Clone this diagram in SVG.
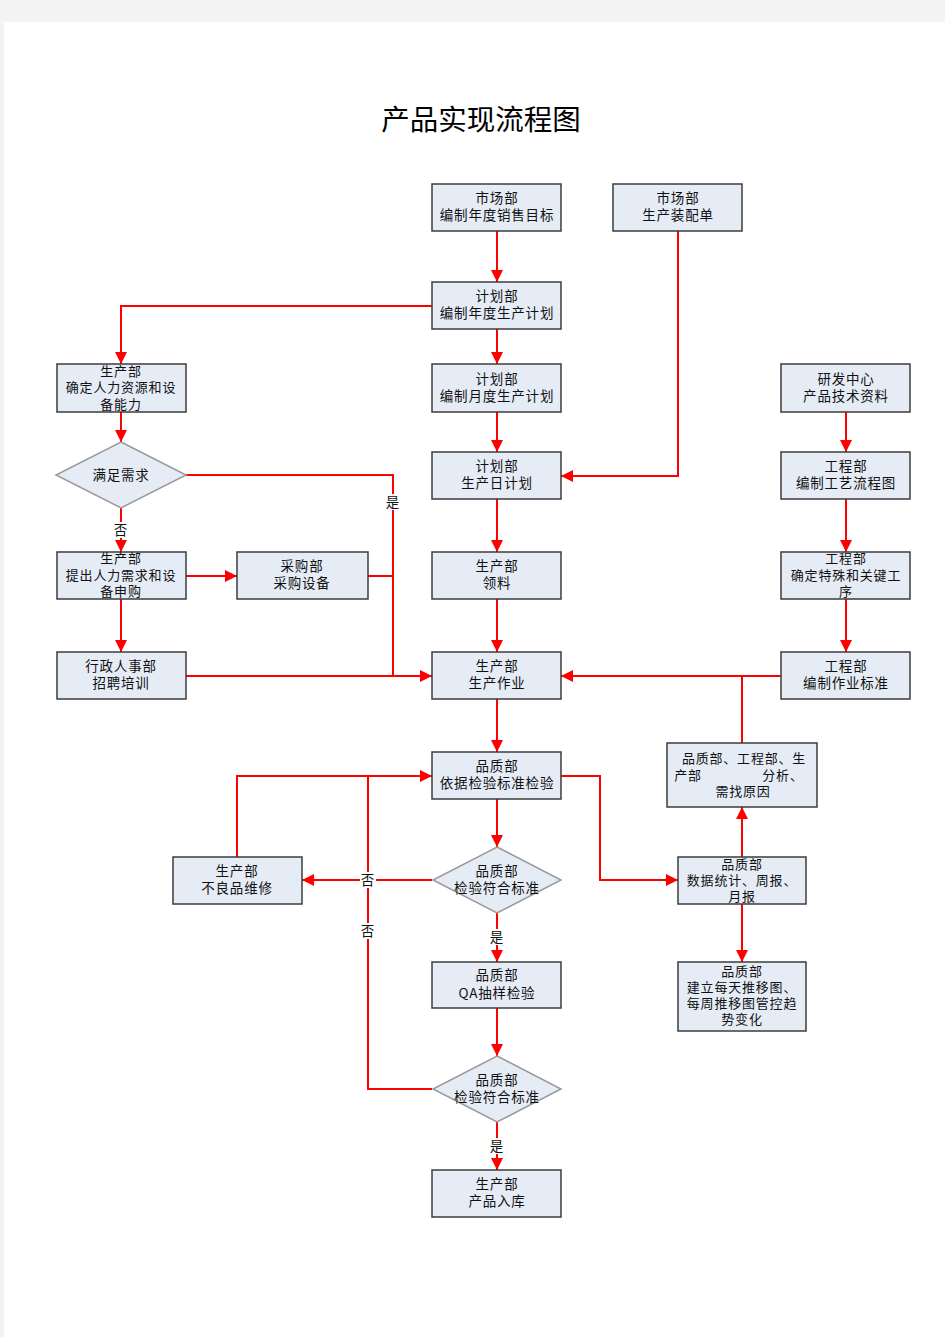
<svg xmlns="http://www.w3.org/2000/svg" width="945" height="1337" viewBox="0 0 945 1337">
<defs>
<marker id="arr" markerUnits="userSpaceOnUse" markerWidth="13" markerHeight="13" refX="12" refY="6" orient="auto">
<path d="M0,0 L12,6 L0,12 z" fill="#ff0000"/>
</marker>
<style>
.box{fill:#e6ecf6;stroke:#3c3c3c;stroke-width:1.5}
.dia{fill:#e6ecf6;stroke:#999999;stroke-width:1.5}
.t{font-family:"Noto Sans CJK SC","Liberation Sans",sans-serif;font-size:13.5px;letter-spacing:0.8px;fill:#111;text-anchor:middle}
.s{font-size:13px}
.c{fill:none;stroke:#ff0000;stroke-width:2}
.a{marker-end:url(#arr)}
.lb{fill:#ffffff}
</style>
</defs>
<rect x="0" y="0" width="945" height="1337" fill="#f3f3f3"/>
<rect x="4" y="22" width="941" height="1315" fill="#ffffff"/>
<text x="481" y="130" style="font-family:'Noto Sans CJK SC','Liberation Serif',serif;font-size:28.5px;fill:#000;text-anchor:middle">产品实现流程图</text>

<g id="connectors">
<path class="c a" d="M497,231 V282"/>
<path class="c a" d="M432,306 H121 V364"/>
<path class="c a" d="M497,329 V364"/>
<path class="c a" d="M497,412 V452"/>
<path class="c a" d="M678,231 V476 H561"/>
<path class="c a" d="M497,499 V552"/>
<path class="c a" d="M497,599 V652"/>
<path class="c a" d="M121,412 V442"/>
<path class="c" d="M186,475 H393 V676"/>
<path class="c a" d="M121,508 V552"/>
<path class="c a" d="M186,576 H237"/>
<path class="c" d="M368,576 H393"/>
<path class="c a" d="M121,599 V652"/>
<path class="c a" d="M186,676 H432"/>
<path class="c a" d="M781,676 H561"/>
<path class="c a" d="M846,412 V452"/>
<path class="c a" d="M846,499 V552"/>
<path class="c a" d="M846,599 V652"/>
<path class="c" d="M742,676 V743"/>
<path class="c a" d="M497,699 V752"/>
<path class="c a" d="M497,799 V847"/>
<path class="c a" d="M561,776 H600 V880 H678"/>
<path class="c a" d="M742,857 V807"/>
<path class="c a" d="M742,904 V962"/>
<path class="c a" d="M432,880 H302"/>
<path class="c a" d="M237,857 V776 H432"/>
<path class="c a" d="M497,913 V962"/>
<path class="c a" d="M497,1008 V1056"/>
<path class="c" d="M432,1089 H368 V776"/>
<path class="c a" d="M497,1122 V1170"/>
<rect class="lb" x="386" y="494" width="14" height="16"/>
<text class="t" x="393" y="507">是</text>
<rect class="lb" x="114" y="522" width="14" height="16"/>
<text class="t" x="121" y="535">否</text>
<rect class="lb" x="360" y="872" width="16" height="16"/>
<text class="t" x="368" y="885">否</text>
<rect class="lb" x="360" y="923" width="16" height="16"/>
<text class="t" x="368" y="936">否</text>
<rect class="lb" x="490" y="929" width="14" height="16"/>
<text class="t" x="497" y="942">是</text>
<rect class="lb" x="490" y="1138" width="14" height="16"/>
<text class="t" x="497" y="1151">是</text>
</g>

<g id="n_sales"><rect class="box" x="432" y="184" width="129" height="47"/><text class="t" x="497" y="203">市场部</text><text class="t" x="497" y="220">编制年度销售目标</text></g>
<g id="n_assembly"><rect class="box" x="613" y="184" width="129" height="47"/><text class="t" x="678" y="203">市场部</text><text class="t" x="678" y="220">生产装配单</text></g>
<g id="n_yearplan"><rect class="box" x="432" y="282" width="129" height="47"/><text class="t" x="497" y="301">计划部</text><text class="t" x="497" y="318">编制年度生产计划</text></g>
<g id="n_monthplan"><rect class="box" x="432" y="364" width="129" height="48"/><text class="t" x="497" y="384">计划部</text><text class="t" x="497" y="401">编制月度生产计划</text></g>
<g id="n_dayplan"><rect class="box" x="432" y="452" width="129" height="47"/><text class="t" x="497" y="471">计划部</text><text class="t" x="497" y="488">生产日计划</text></g>
<g id="n_material"><rect class="box" x="432" y="552" width="129" height="47"/><text class="t" x="497" y="571">生产部</text><text class="t" x="497" y="588">领料</text></g>
<g id="n_production"><rect class="box" x="432" y="652" width="129" height="47"/><text class="t" x="497" y="671">生产部</text><text class="t" x="497" y="688">生产作业</text></g>
<g id="n_inspect"><rect class="box" x="432" y="752" width="129" height="47"/><text class="t" x="497" y="771">品质部</text><text class="t" x="497" y="788">依据检验标准检验</text></g>
<g id="n_check1"><polygon class="dia" points="497,847 561,880 497,913 433,880"/><text class="t" x="497" y="876">品质部</text><text class="t" x="497" y="893">检验符合标准</text></g>
<g id="n_qa"><rect class="box" x="432" y="962" width="129" height="46"/><text class="t" x="497" y="980">品质部</text><text class="t" x="497" y="998">QA抽样检验</text></g>
<g id="n_check2"><polygon class="dia" points="497,1056 561,1089 497,1122 433,1089"/><text class="t" x="497" y="1085">品质部</text><text class="t" x="497" y="1102">检验符合标准</text></g>
<g id="n_storage"><rect class="box" x="432" y="1170" width="129" height="47"/><text class="t" x="497" y="1189">生产部</text><text class="t" x="497" y="1206">产品入库</text></g>

<g id="n_capacity"><rect class="box" x="57" y="364" width="129" height="48"/><text class="t s" x="121" y="376">生产部</text><text class="t s" x="121" y="392">确定人力资源和设</text><text class="t s" x="121" y="409">备能力</text></g>
<g id="n_meet"><polygon class="dia" points="121,442 186,475 121,508 56,475"/><text class="t" x="121" y="480">满足需求</text></g>
<g id="n_request"><rect class="box" x="57" y="552" width="129" height="47"/><text class="t s" x="121" y="563">生产部</text><text class="t s" x="121" y="580">提出人力需求和设</text><text class="t s" x="121" y="596">备申购</text></g>
<g id="n_purchase"><rect class="box" x="237" y="552" width="131" height="47"/><text class="t" x="302" y="571">采购部</text><text class="t" x="302" y="588">采购设备</text></g>
<g id="n_hr"><rect class="box" x="57" y="652" width="129" height="47"/><text class="t" x="121" y="671">行政人事部</text><text class="t" x="121" y="688">招聘培训</text></g>
<g id="n_repair"><rect class="box" x="173" y="857" width="129" height="47"/><text class="t" x="237" y="876">生产部</text><text class="t" x="237" y="893">不良品维修</text></g>

<g id="n_rd"><rect class="box" x="781" y="364" width="129" height="48"/><text class="t" x="846" y="384">研发中心</text><text class="t" x="846" y="401">产品技术资料</text></g>
<g id="n_flow"><rect class="box" x="781" y="452" width="129" height="47"/><text class="t" x="846" y="471">工程部</text><text class="t" x="846" y="488">编制工艺流程图</text></g>
<g id="n_key"><rect class="box" x="781" y="552" width="129" height="47"/><text class="t s" x="846" y="563">工程部</text><text class="t s" x="846" y="580">确定特殊和关键工</text><text class="t s" x="846" y="596">序</text></g>
<g id="n_standard"><rect class="box" x="781" y="652" width="129" height="47"/><text class="t" x="846" y="671">工程部</text><text class="t" x="846" y="688">编制作业标准</text></g>
<g id="n_analysis"><rect class="box" x="667" y="743" width="150" height="64"/><text class="t s" x="744" y="763">品质部、工程部、生</text><text class="t s" x="688" y="780">产部</text><text class="t s" x="783" y="780">分析、</text><text class="t s" x="743" y="796">需找原因</text></g>
<g id="n_stats"><rect class="box" x="678" y="857" width="128" height="47"/><text class="t s" x="742" y="869">品质部</text><text class="t s" x="742" y="885">数据统计、周报、</text><text class="t s" x="742" y="901">月报</text></g>
<g id="n_trend"><rect class="box" x="678" y="962" width="128" height="69"/><text class="t s" x="742" y="976">品质部</text><text class="t s" x="742" y="992">建立每天推移图、</text><text class="t s" x="742" y="1008">每周推移图管控趋</text><text class="t s" x="742" y="1024">势变化</text></g>
</svg>
